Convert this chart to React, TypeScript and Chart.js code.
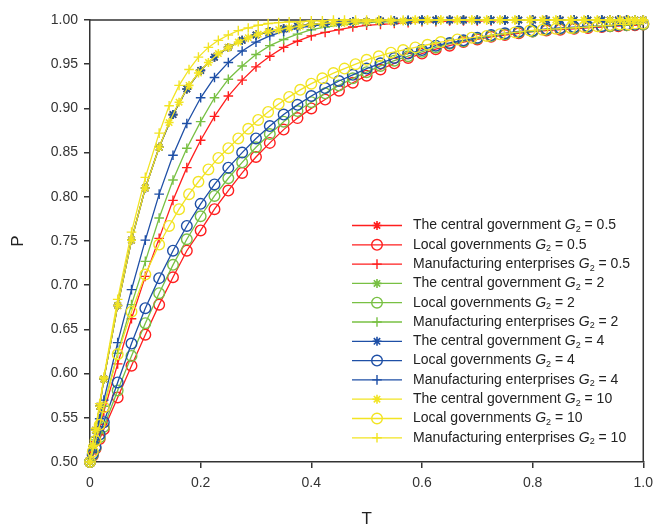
import React, { useEffect, useRef } from "react";
import { Chart, registerables } from "chart.js";

Chart.register(...registerables);

// Time samples (solver output) for G2 = 0.5, 2, 4
const T_A = [0, 0.005, 0.01, 0.0175, 0.025, 0.05, 0.075, 0.1, 0.125, 0.15, 0.175, 0.2, 0.225, 0.25, 0.275, 0.3, 0.325, 0.35, 0.375, 0.4, 0.425, 0.45, 0.475, 0.5, 0.525, 0.55, 0.575, 0.6, 0.625, 0.65, 0.675, 0.7, 0.725, 0.75, 0.775, 0.8, 0.825, 0.85, 0.875, 0.9, 0.925, 0.94, 0.955, 0.97, 0.985, 1.0];
// Time samples for G2 = 10
const T_B = [0, 0.005, 0.01, 0.0175, 0.025, 0.05, 0.075, 0.1, 0.125, 0.143, 0.161, 0.179, 0.196, 0.214, 0.232, 0.25, 0.268, 0.286, 0.304, 0.322, 0.341, 0.36, 0.38, 0.4, 0.42, 0.44, 0.46, 0.48, 0.5, 0.522, 0.544, 0.566, 0.588, 0.61, 0.634, 0.664, 0.69, 0.717, 0.741, 0.768, 0.795, 0.818, 0.842, 0.869, 0.893, 0.917, 0.94, 0.958, 0.973, 0.985, 1.0];

// The central government (same curve for every G2)
const central_A = [0.5, 0.518, 0.536, 0.563, 0.594, 0.677, 0.751, 0.81, 0.856, 0.893, 0.922, 0.943, 0.958, 0.969, 0.977, 0.983, 0.987, 0.99, 0.993, 0.995, 0.996, 0.997, 0.998, 0.998, 0.999, 0.999, 0.999, 1, 1, 1, 1, 1, 1, 1, 1, 1, 1, 1, 1, 1, 1, 1, 1, 1, 1, 1];
const central_B = [0.5, 0.518, 0.536, 0.563, 0.594, 0.677, 0.751, 0.81, 0.856, 0.884, 0.907, 0.926, 0.94, 0.952, 0.962, 0.969, 0.975, 0.98, 0.984, 0.987, 0.989, 0.991, 0.993, 0.995, 0.996, 0.997, 0.997, 0.998, 0.998, 0.999, 0.999, 0.999, 1, 1, 1, 1, 1, 1, 1, 1, 1, 1, 1, 1, 1, 1, 1, 1, 1, 1, 1];

// Local governments
const local_05 = [0.5, 0.507, 0.515, 0.526, 0.537, 0.573, 0.609, 0.644, 0.678, 0.709, 0.739, 0.762, 0.786, 0.807, 0.827, 0.845, 0.861, 0.876, 0.889, 0.9, 0.91, 0.92, 0.929, 0.937, 0.944, 0.951, 0.957, 0.962, 0.967, 0.971, 0.975, 0.978, 0.981, 0.983, 0.985, 0.987, 0.988, 0.989, 0.99, 0.991, 0.992, 0.993, 0.993, 0.994, 0.994, 0.995];
const local_2 = [0.5, 0.508, 0.516, 0.528, 0.54, 0.581, 0.62, 0.657, 0.691, 0.723, 0.752, 0.778, 0.801, 0.821, 0.839, 0.856, 0.871, 0.885, 0.897, 0.907, 0.917, 0.926, 0.934, 0.941, 0.948, 0.954, 0.959, 0.964, 0.969, 0.973, 0.976, 0.979, 0.982, 0.984, 0.986, 0.987, 0.989, 0.99, 0.991, 0.992, 0.993, 0.993, 0.994, 0.994, 0.995, 0.995];
const local_4 = [0.5, 0.509, 0.517, 0.531, 0.545, 0.59, 0.634, 0.674, 0.708, 0.739, 0.767, 0.792, 0.814, 0.833, 0.85, 0.866, 0.88, 0.893, 0.904, 0.914, 0.923, 0.931, 0.938, 0.945, 0.951, 0.957, 0.962, 0.966, 0.971, 0.974, 0.977, 0.98, 0.983, 0.985, 0.987, 0.988, 0.99, 0.991, 0.992, 0.993, 0.993, 0.994, 0.994, 0.995, 0.995, 0.996];
const local_10 = [0.5, 0.512, 0.524, 0.542, 0.562, 0.622, 0.67, 0.712, 0.746, 0.767, 0.786, 0.803, 0.817, 0.831, 0.844, 0.855, 0.866, 0.877, 0.887, 0.896, 0.905, 0.913, 0.921, 0.928, 0.934, 0.94, 0.945, 0.95, 0.955, 0.959, 0.963, 0.966, 0.969, 0.972, 0.975, 0.978, 0.98, 0.982, 0.984, 0.986, 0.988, 0.989, 0.99, 0.991, 0.992, 0.993, 0.994, 0.995, 0.995, 0.996, 0.996];

// Manufacturing enterprises
const manuf_05 = [0.5, 0.511, 0.523, 0.54, 0.557, 0.611, 0.662, 0.71, 0.753, 0.796, 0.833, 0.864, 0.891, 0.914, 0.932, 0.947, 0.959, 0.969, 0.976, 0.982, 0.986, 0.989, 0.992, 0.994, 0.995, 0.996, 0.997, 0.998, 0.998, 0.999, 0.999, 0.999, 0.999, 1, 1, 1, 1, 1, 1, 1, 1, 1, 1, 1, 1, 1];
const manuf_2 = [0.5, 0.513, 0.525, 0.544, 0.563, 0.623, 0.678, 0.727, 0.776, 0.819, 0.855, 0.885, 0.912, 0.933, 0.948, 0.961, 0.971, 0.978, 0.984, 0.989, 0.992, 0.994, 0.996, 0.997, 0.998, 0.998, 0.999, 0.999, 0.999, 1, 1, 1, 1, 1, 1, 1, 1, 1, 1, 1, 1, 1, 1, 1, 1, 1];
const manuf_4 = [0.5, 0.514, 0.528, 0.549, 0.57, 0.635, 0.695, 0.751, 0.803, 0.847, 0.883, 0.912, 0.935, 0.952, 0.965, 0.975, 0.982, 0.987, 0.991, 0.993, 0.995, 0.997, 0.998, 0.998, 0.999, 0.999, 1, 1, 1, 1, 1, 1, 1, 1, 1, 1, 1, 1, 1, 1, 1, 1, 1, 1, 1, 1];
const manuf_10 = [0.5, 0.519, 0.538, 0.566, 0.596, 0.684, 0.76, 0.822, 0.872, 0.903, 0.926, 0.944, 0.958, 0.969, 0.977, 0.983, 0.988, 0.991, 0.994, 0.996, 0.997, 0.998, 0.998, 0.999, 0.999, 1, 1, 1, 1, 1, 1, 1, 1, 1, 1, 1, 1, 1, 1, 1, 1, 1, 1, 1, 1, 1, 1, 1, 1, 1, 1];

const actorNames = ["The central government", "Local governments", "Manufacturing enterprises"];
const g2Labels = ["0.5", "2", "4", "10"];
const xTickLabels = ["0", "0.2", "0.4", "0.6", "0.8", "1.0"];
const yTickLabels = ["0.50", "0.55", "0.60", "0.65", "0.70", "0.75", "0.80", "0.85", "0.90", "0.95", "1.00"];

const groupColors = ["#FF1E1E", "#78C043", "#1E4FA6", "#F2E423"];
const markerStyles = ["star", "circle", "cross"];
const markerRadius = [4.5, 5.3, 4.8];
const FONT = "'Liberation Sans', Arial, sans-serif";
const AXIS = "#333333";

const groups = [
  { t: T_A, series: [central_A, local_05, manuf_05] },
  { t: T_A, series: [central_A, local_2, manuf_2] },
  { t: T_A, series: [central_A, local_4, manuf_4] },
  { t: T_B, series: [central_B, local_10, manuf_10] },
];

function drawMarker(ctx: CanvasRenderingContext2D, style: string, x: number, y: number, r: number) {
  ctx.beginPath();
  if (style === "circle") {
    ctx.arc(x, y, r, 0, Math.PI * 2);
  } else if (style === "cross") {
    ctx.moveTo(x - r, y); ctx.lineTo(x + r, y);
    ctx.moveTo(x, y - r); ctx.lineTo(x, y + r);
  } else {
    ctx.moveTo(x - r, y); ctx.lineTo(x + r, y);
    ctx.moveTo(x, y - r); ctx.lineTo(x, y + r);
    const d = r * Math.cos(Math.PI / 4);
    ctx.moveTo(x - d, y - d); ctx.lineTo(x + d, y + d);
    ctx.moveTo(x - d, y + d); ctx.lineTo(x + d, y - d);
  }
  ctx.stroke();
}

const framePlugin = {
  id: "frame",
  beforeDatasetsDraw(chart: any) {
    const { ctx, chartArea } = chart;
    ctx.save();
    ctx.strokeStyle = AXIS;
    ctx.lineWidth = 1.5;
    ctx.beginPath();
    ctx.moveTo(chartArea.left, chartArea.top);
    ctx.lineTo(chartArea.right, chartArea.top);
    ctx.lineTo(chartArea.right, chartArea.bottom);
    ctx.stroke();
    ctx.restore();
  },
};

const legendPlugin = {
  id: "insideLegend",
  afterDraw(chart: any) {
    const { ctx, chartArea } = chart;
    const lineX0 = chartArea.left + 262;
    const lineX1 = chartArea.left + 312;
    const textX = chartArea.left + 323;
    const y0 = chartArea.top + 205.5;
    const dy = 19.3;
    ctx.save();
    let row = 0;
    for (let g = 0; g < groups.length; g++) {
      for (let a = 0; a < actorNames.length; a++) {
        const y = y0 + row * dy;
        const color = groupColors[g];
        ctx.strokeStyle = color;
        ctx.lineWidth = 1.3;
        ctx.beginPath();
        ctx.moveTo(lineX0, y);
        ctx.lineTo(lineX1, y);
        ctx.stroke();
        ctx.lineWidth = a === 0 ? 1.6 : 1.4;
        drawMarker(ctx, markerStyles[a], (lineX0 + lineX1) / 2, y, markerRadius[a]);
        ctx.fillStyle = "#222";
        ctx.textBaseline = "middle";
        ctx.textAlign = "left";
        let x = textX;
        ctx.font = `14px ${FONT}`;
        const first = actorNames[a] + " ";
        ctx.fillText(first, x, y);
        x += ctx.measureText(first).width;
        ctx.font = `italic 14px ${FONT}`;
        ctx.fillText("G", x, y);
        x += ctx.measureText("G").width;
        ctx.font = `9px ${FONT}`;
        ctx.fillText("2", x, y + 4);
        x += ctx.measureText("2").width;
        ctx.font = `14px ${FONT}`;
        ctx.fillText(" = " + g2Labels[g], x, y);
        row++;
      }
    }
    ctx.restore();
  },
};

export default function App() {
  const canvasRef = useRef<HTMLCanvasElement | null>(null);

  useEffect(() => {
    if (!canvasRef.current) return;
    const datasets: any[] = [];
    let idx = 0;
    groups.forEach((grp, g) => {
      grp.series.forEach((vals, a) => {
        datasets.push({
          label: `${actorNames[a]} G2 = ${g2Labels[g]}`,
          data: grp.t.map((t, i) => ({ x: t, y: vals[i] })),
          showLine: true,
          borderColor: groupColors[g],
          borderWidth: 1.3,
          backgroundColor: "rgba(0,0,0,0)",
          pointStyle: markerStyles[a],
          pointRadius: markerRadius[a],
          pointBorderColor: groupColors[g],
          pointBackgroundColor: "rgba(0,0,0,0)",
          pointBorderWidth: a === 0 ? 1.6 : 1.4,
          tension: 0,
          clip: false,
          order: 12 - idx,
        });
        idx++;
      });
    });

    const chart = new Chart(canvasRef.current, {
      type: "scatter",
      data: { datasets },
      plugins: [framePlugin, legendPlugin],
      options: {
        animation: false,
        responsive: false,
        devicePixelRatio: 1,
        events: [],
        layout: { padding: { top: 20, right: 10, left: 0, bottom: 0 } },
        plugins: { legend: { display: false }, tooltip: { enabled: false } },
        scales: {
          x: {
            type: "linear",
            min: 0,
            max: 1,
            afterFit: (s: any) => { s.height = 62; },
            ticks: {
              stepSize: 0.2,
              color: AXIS,
              padding: 7,
              font: { family: FONT, size: 14 },
              callback: (_v: any, i: number) => xTickLabels[i],
            },
            grid: { drawOnChartArea: false, drawTicks: true, tickLength: 6, color: AXIS, lineWidth: 1.5 },
            border: { display: true, color: AXIS, width: 1.5 },
            title: {
              display: true,
              text: "T",
              color: "#222",
              font: { family: FONT, size: 17, lineHeight: 1 },
              padding: { top: 0, bottom: -4 },
            },
          },
          y: {
            type: "linear",
            min: 0.5,
            max: 1,
            afterFit: (s: any) => { s.width = 90; },
            ticks: {
              stepSize: 0.05,
              color: AXIS,
              padding: 6,
              font: { family: FONT, size: 14 },
              callback: (_v: any, i: number) => yTickLabels[i],
            },
            grid: { drawOnChartArea: false, drawTicks: true, tickLength: 6, color: AXIS, lineWidth: 1.5 },
            border: { display: true, color: AXIS, width: 1.5 },
            title: {
              display: true,
              text: "P",
              color: "#222",
              font: { family: FONT, size: 17, lineHeight: 1 },
              padding: { top: 10, bottom: 0 },
            },
          },
        },
      } as any,
    });
    return () => chart.destroy();
  }, []);

  return (
    <div style={{ position: "fixed", left: 0, top: 0, width: 660, height: 524, background: "#fff" }}>
      <canvas ref={canvasRef} width={660} height={524} style={{ width: 660, height: 524, display: "block" }} />
    </div>
  );
}
